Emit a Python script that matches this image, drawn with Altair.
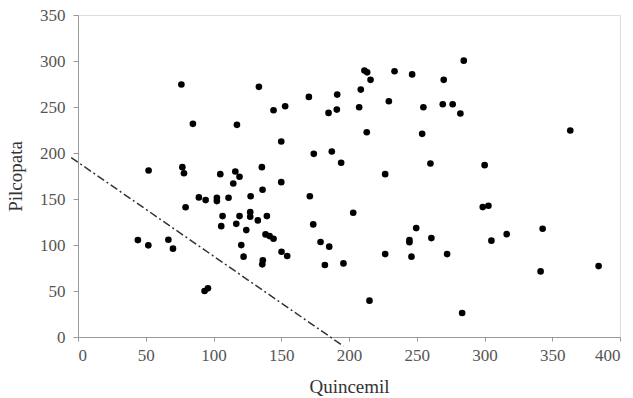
import altair as alt
import pandas as pd

quincemil = [44.2, 51.9, 52.1, 66.7, 70.1, 76.3, 77.0, 78.2, 79.4, 84.8,
             89.2, 93.4, 95.9, 94.2, 102.5, 102.5, 105.0, 105.7, 106.7, 111.1,
             114.6, 116.1, 116.8, 117.3, 119.2, 119.2, 120.5, 122.2, 124.2, 127.1,
             127.1, 127.4, 132.7, 133.5, 135.7, 136.2, 136.4, 136.0, 138.4, 139.4,
             141.4, 144.3, 144.3, 150.0, 150.0, 150.2, 152.9, 154.4, 170.4, 171.1,
             173.6, 174.0, 179.0, 182.2, 184.9, 185.4, 187.3, 191.0, 191.3, 194.2,
             195.9, 203.1, 207.5, 208.7, 211.4, 213.4, 213.1, 215.1, 215.9, 226.7,
             226.7, 229.4, 233.6, 244.6, 244.6, 246.1, 246.6, 249.6, 254.0, 254.9,
             260.1, 260.8, 269.2, 269.9, 272.4, 276.5, 282.2, 283.5, 284.7, 298.7,
             300.1, 302.9, 305.1, 316.4, 341.4, 342.9, 363.3, 384.2]
pilcopata = [105.3, 99.6, 181.0, 105.7, 96.0, 274.4, 184.6, 178.0, 141.0, 231.7,
             151.7, 50.0, 52.9, 148.8, 151.3, 147.7, 177.0, 120.5, 131.4, 151.3,
             166.9, 179.9, 123.0, 230.6, 174.2, 131.4, 99.9, 87.3, 116.2, 135.7,
             130.7, 153.0, 126.7, 271.9, 184.6, 160.0, 83.3, 79.0, 111.5, 131.4,
             109.7, 106.8, 246.5, 212.5, 168.3, 92.7, 250.8, 88.0, 261.0, 153.0,
             122.4, 199.1, 103.2, 78.2, 243.6, 98.2, 201.6, 247.2, 263.5, 189.4,
             80.0, 135.0, 249.7, 268.9, 289.6, 287.7, 222.6, 39.5, 279.5, 177.0,
             90.1, 256.2, 288.8, 105.3, 103.0, 87.3, 285.4, 118.4, 220.8, 249.7,
             188.6, 107.5, 253.0, 279.5, 90.1, 253.0, 242.9, 26.1, 300.4, 141.2,
             186.8, 142.7, 104.7, 111.8, 71.3, 117.7, 224.4, 77.1]

line_x = [-5.0, 196.0]
line_y = [195.0, -10.0]

pts = pd.DataFrame({"Quincemil": quincemil, "Pilcopata": pilcopata})
ln = pd.DataFrame({"Quincemil": line_x, "Pilcopata": line_y})

xscale = alt.Scale(domain=[0, 400], nice=False)
yscale = alt.Scale(domain=[0, 350], nice=False)

xaxis = alt.Axis(values=list(range(0, 401, 50)), grid=False, domainColor="#999999",
                 tickColor="#999999", tickSize=4, labelPadding=6, labelFont="Liberation Serif",
                 labelFontSize=17, labelColor="#555555", title="Quincemil",
                 titleFont="Liberation Serif", titleFontSize=19, titleFontWeight="normal",
                 titleColor="#333333", titleY=49, titleBaseline="middle")
yaxis = alt.Axis(values=list(range(0, 351, 50)), grid=False, domainColor="#999999",
                 tickColor="#999999", tickSize=5, labelPadding=8, labelFont="Liberation Serif",
                 labelFontSize=17, labelColor="#555555", title="Pilcopata",
                 titleFont="Liberation Serif", titleFontSize=19, titleFontWeight="normal",
                 titleColor="#333333", titleX=-63, titleBaseline="middle", titleAngle=-90)

points = alt.Chart(pts).mark_circle(size=44, color="black", opacity=1).encode(
    x=alt.X("Quincemil:Q", scale=xscale, axis=xaxis),
    y=alt.Y("Pilcopata:Q", scale=yscale, axis=yaxis),
)

line = alt.Chart(ln).mark_line(color="#333333", strokeWidth=1.5, strokeDash=[8, 3, 2, 3],
                               clip=False).encode(
    x=alt.X("Quincemil:Q", scale=xscale),
    y=alt.Y("Pilcopata:Q", scale=yscale),
)

chart = alt.layer(line, points).properties(
    width=542, height=322,
    autosize=alt.AutoSizeParams(type="none"),
    padding={"left": 78, "top": 15, "right": 13, "bottom": 61},
).configure_view(stroke=None).configure(background="white")

chart.save("out.html", embed_options={"renderer": "svg", "actions": False})
